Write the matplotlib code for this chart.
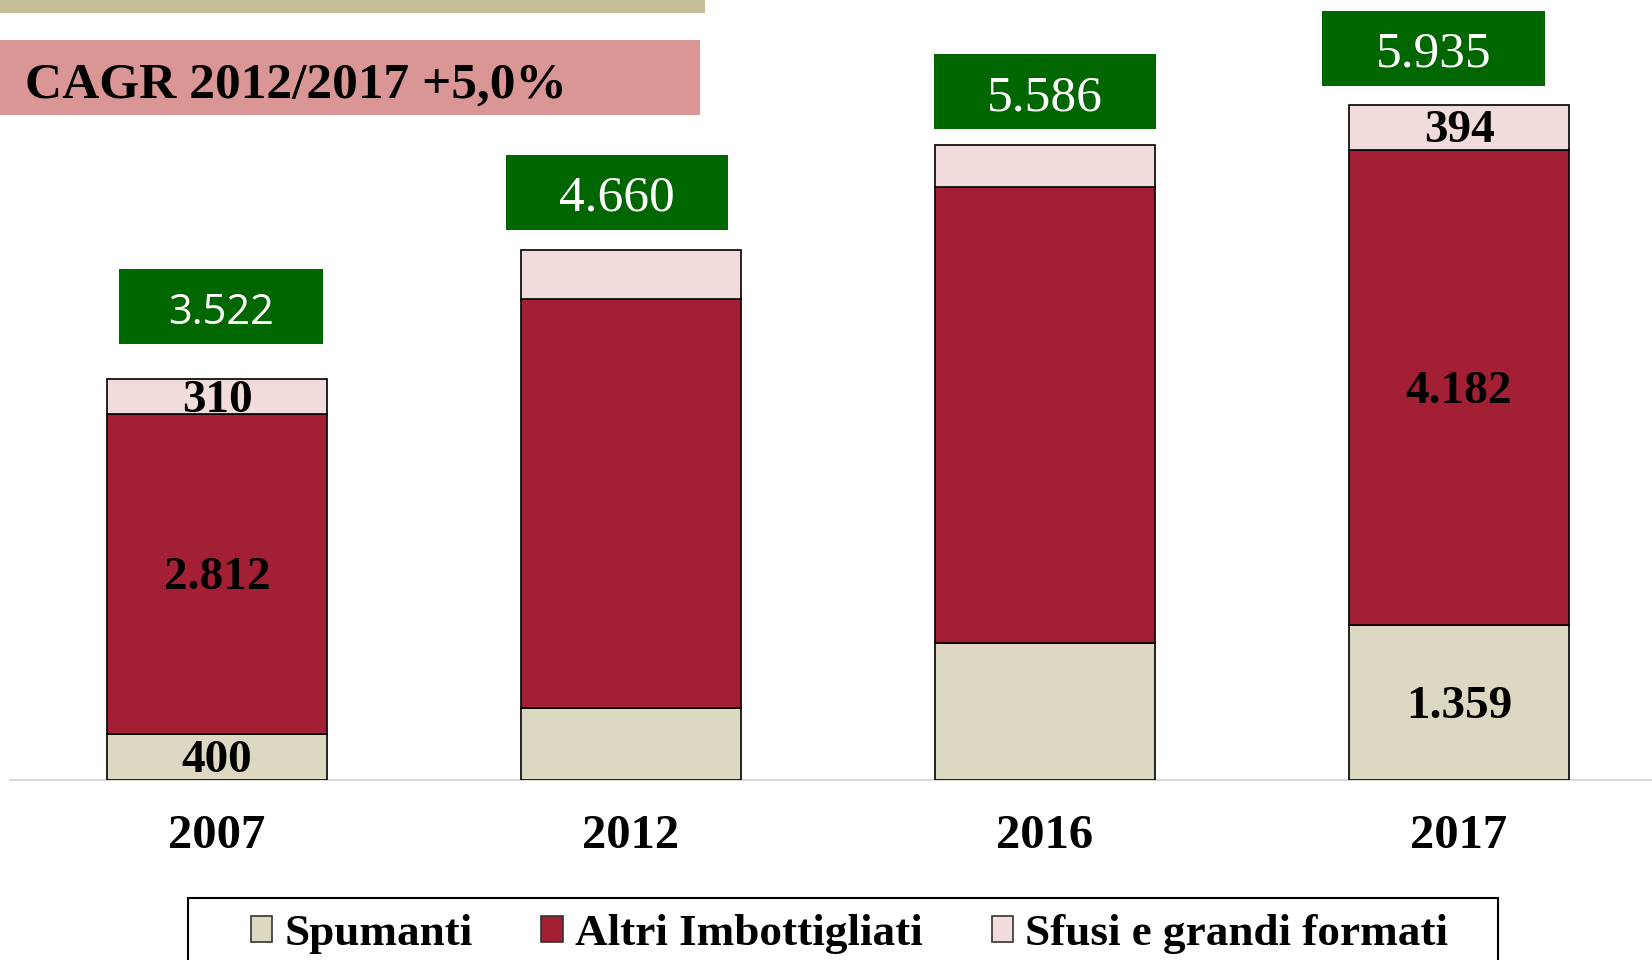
import matplotlib
matplotlib.use("Agg")
import matplotlib.pyplot as plt
from matplotlib.patches import Rectangle, Patch

# ---- data ----
years = ["2007", "2012", "2016", "2017"]
spumanti = [400, 630, 1205, 1359]
altri = [2812, 3600, 4005, 4182]
sfusi = [310, 430, 376, 394]
totals = [3522, 4660, 5586, 5935]
series_names = ["Spumanti", "Altri Imbottigliati", "Sfusi e grandi formati"]
show_labels = [True, False, False, True]
cagr_text = "CAGR 2012/2017 +5,0%"

# ---- style ----
c_spum = "#DDD8C2"
c_altri = "#A31F34"
c_sfusi = "#F2DCDB"
c_green = "#006600"
W, H = 1652, 960

fig = plt.figure(figsize=(W / 100, H / 100), dpi=100)
ax = fig.add_axes([10 / W, 1 - 779.6 / H, 1 - 10 / W, 779.6 / H])

def fmt(v):
    return f"{v:,}".replace(",", ".")

bar_w = 0.53
bkw = dict(width=bar_w, edgecolor="black", linewidth=1.2, zorder=3)
b1 = ax.bar(years, spumanti, color=c_spum, **bkw)
b2 = ax.bar(years, altri, bottom=spumanti, color=c_altri, **bkw)
bottoms3 = [a + b for a, b in zip(spumanti, altri)]
b3 = ax.bar(years, sfusi, bottom=bottoms3, color=c_sfusi, **bkw)

# segment labels (centered in each segment)
for bars, vals in [(b1, spumanti), (b2, altri), (b3, sfusi)]:
    for rect, v, s in zip(bars, vals, show_labels):
        if not s:
            continue
        x = rect.get_x() + rect.get_width() / 2
        y = rect.get_y() + rect.get_height() / 2
        ax.annotate(fmt(v), xy=(x, y), xytext=(0, -3), textcoords="offset points",
                    ha="center", va="center", fontfamily="Liberation Serif",
                    fontweight="bold", fontsize=34, color="black", zorder=5)

ax.set_xlim(-0.5, 3.466)
ax.set_ylim(0, 6857)
for s in ["left", "right", "top"]:
    ax.spines[s].set_visible(False)
ax.spines["bottom"].set_color("#D9D9D9")
ax.spines["bottom"].set_linewidth(1.5)
ax.set_yticks([])
ax.tick_params(axis="x", length=0, pad=25)
for t in ax.get_xticklabels():
    t.set_fontfamily("Liberation Serif")
    t.set_fontweight("bold")
    t.set_fontsize(35)

# ---- green total boxes (layout offsets relative to each bar) ----
box_dx = [0.01, -0.034, 0.0, -0.061]
box_dy = [635, 508, 462, 499]
box_w = [0.493, 0.536, 0.536, 0.538]
box_h = 660
box_fonts = [dict(family="Open Sans", size=30),
             dict(family="Liberation Serif", size=37),
             dict(family="Liberation Serif", size=37),
             dict(family="Liberation Serif", size=37)]
for i, tot in enumerate(totals):
    cx = i + box_dx[i]
    cy = tot + box_dy[i]
    ax.add_patch(Rectangle((cx - box_w[i] / 2, cy - box_h / 2), box_w[i], box_h,
                           facecolor=c_green, edgecolor="none", zorder=4, clip_on=False))
    ax.annotate(fmt(tot), xy=(cx, cy), xytext=(0, -4.5), textcoords="offset points",
                ha="center", va="center", color="white", zorder=6, **box_fonts[i])

# ---- header boxes ----
fig.patches.append(Rectangle((0, 1 - 12.6 / H), 705 / W, 12.6 / H + 0.01,
                             transform=fig.transFigure, facecolor="#C4BD97",
                             edgecolor="none", zorder=1))
fig.patches.append(Rectangle((0, 1 - 115 / H), 699.6 / W, 75 / H,
                             transform=fig.transFigure, facecolor="#D99694",
                             edgecolor="none", zorder=1))
fig.text(25 / W, 1 - 86 / H, cagr_text, ha="left", va="center",
         fontfamily="Liberation Serif", fontweight="bold", fontsize=37, color="black")

# ---- legend ----
handles = [Patch(facecolor=c, edgecolor="#333333", linewidth=1.2)
           for c in (c_spum, c_altri, c_sfusi)]
fig.legend(handles, series_names, loc="center", bbox_to_anchor=(849.5 / W, 1 - 934 / H),
           ncol=3, frameon=False,
           prop=dict(family="Liberation Serif", weight="bold", size=32.5),
           handlelength=0.47, handleheight=0.5, handletextpad=0.28, columnspacing=1.52)
fig.patches.append(Rectangle((187.5 / W, -0.05), (1498 - 187.5) / W, 0.05 + 1 - 897.6 / H,
                             transform=fig.transFigure, facecolor="none",
                             edgecolor="black", linewidth=1.5, zorder=2))

fig.savefig("out.png", dpi=100)
